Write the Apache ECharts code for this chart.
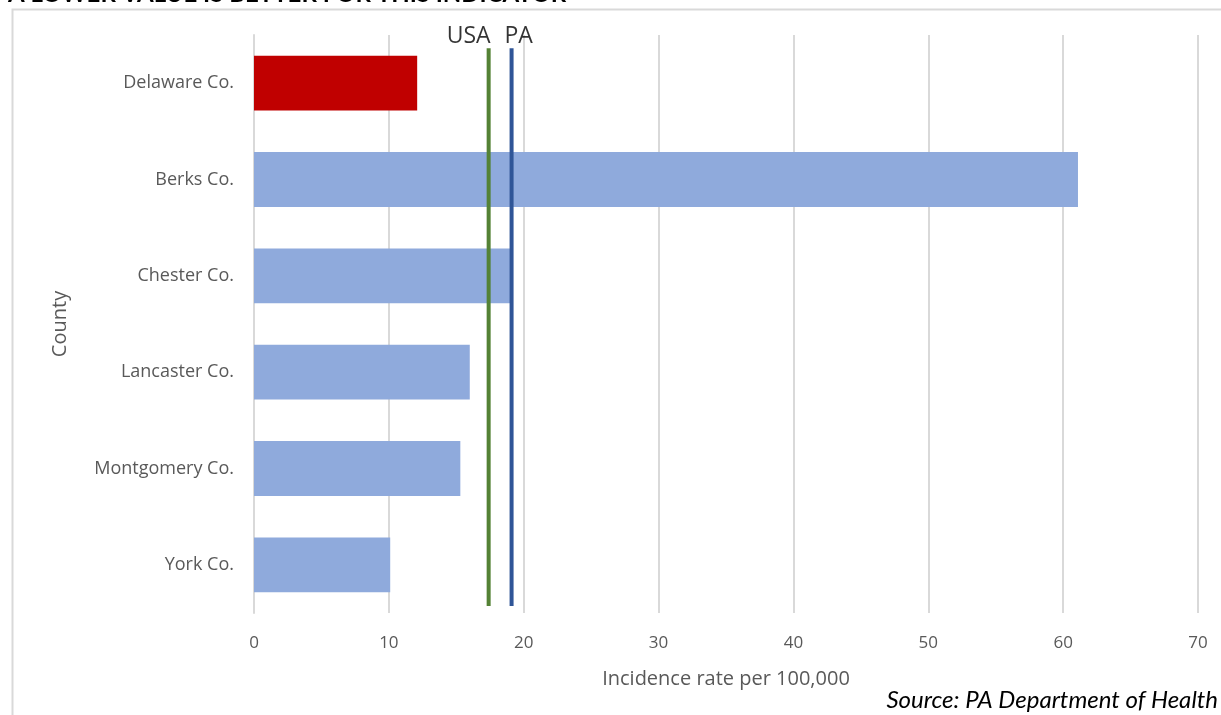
<!DOCTYPE html>
<html>
<head>
<meta charset="utf-8">
<script src="https://cdn.jsdelivr.net/npm/echarts@6/dist/echarts.min.js"></script>
<style>
html,body{margin:0;padding:0;background:#fff;}
#chart{width:1221px;height:715px;}
</style>
</head>
<body>
<div id="chart"></div>
<script>
const categories = ["Delaware Co.", "Berks Co.", "Chester Co.", "Lancaster Co.", "Montgomery Co.", "York Co."];
const rates = [12.1, 61.1, 19.0, 16.0, 15.3, 10.1];
const highlight = "Delaware Co.";
const usaRate = 17.4;
const paRate = 19.1;
const xTicks = [0, 10, 20, 30, 40, 50, 60, 70];

const FONT = "'Open Sans', Lato, 'Noto Sans', sans-serif";
const chart = echarts.init(document.getElementById('chart'), null, {renderer: 'canvas'});

const barData = rates.map((v, i) => ({
  value: v,
  itemStyle: {color: categories[i] === highlight ? '#C00000' : '#8FAADC'}
}));

function refLine(name, val, color) {
  return {
    type: 'line',
    name: name,
    xAxisIndex: 0,
    yAxisIndex: 1,
    data: [[val, 0.012], [val, 0.977]],
    symbol: 'none',
    lineStyle: {color: color, width: 4},
    z: 5,
    silent: true
  };
}
function refLabel(name, val, offX) {
  return {
    type: 'scatter',
    xAxisIndex: 0,
    yAxisIndex: 1,
    data: [[val, 0.977]],
    symbol: 'circle',
    symbolSize: 2,
    itemStyle: {color: 'rgba(0,0,0,0)'},
    label: {
      show: true,
      position: 'top',
      formatter: name,
      color: '#000000',
      fontSize: 23,
      fontFamily: FONT,
      offset: [offX, 6]
    },
    z: 6,
    silent: true
  };
}

chart.setOption({
  animation: false,
  grid: {left: 254, right: 23, top: 35, bottom: 102, containLabel: false},
  xAxis: {
    type: 'value',
    min: 0, max: 70, interval: 10,
    axisLine: {show: false},
    axisTick: {show: false},
    splitLine: {lineStyle: {color: '#D9D9D9', width: 2}},
    axisLabel: {color: '#595959', fontSize: 17, fontFamily: FONT, margin: 22,
      formatter: v => xTicks.includes(v) ? String(v) : ''},
    name: 'Incidence rate per 100,000',
    nameLocation: 'middle',
    nameGap: 56,
    nameTextStyle: {color: '#595959', fontSize: 20, fontFamily: FONT}
  },
  yAxis: [{
    type: 'category',
    data: categories,
    inverse: true,
    axisLine: {show: true, lineStyle: {color: '#D9D9D9', width: 2}},
    axisTick: {show: false},
    axisLabel: {color: '#595959', fontSize: 18, fontFamily: FONT, margin: 20},
    name: 'County',
    nameLocation: 'middle',
    nameGap: 184,
    nameRotate: 90,
    nameTextStyle: {color: '#595959', fontSize: 20, fontFamily: FONT}
  }, {
    type: 'value', min: 0, max: 1, show: false
  }],
  series: [
    {
      type: 'bar',
      data: barData,
      barWidth: '57%',
      yAxisIndex: 0,
      silent: true
    },
    refLine('USA', usaRate, '#548235'),
    refLine('PA', paRate, '#2F5597'),
    refLabel('USA', usaRate, -20),
    refLabel('PA', paRate, 7)
  ],
  graphic: [
    {type: 'rect', shape: {x: 12.5, y: 9.5, width: 1240, height: 720}, style: {fill: 'none', stroke: '#D9D9D9', lineWidth: 2}, silent: true},
    {type: 'text', left: 8, top: -18, style: {text: 'A LOWER VALUE IS BETTER FOR THIS INDICATOR', fontSize: 24, fontWeight: 'bold', fill: '#000', fontFamily: "Lato, 'Open Sans', sans-serif"}},
    {type: 'text', right: 3, top: 688, style: {text: 'Source: PA Department of Health', fontSize: 24, fontStyle: 'italic', fill: '#000', fontFamily: "Lato, 'Open Sans', sans-serif"}}
  ]
});
</script>
</body>
</html>
